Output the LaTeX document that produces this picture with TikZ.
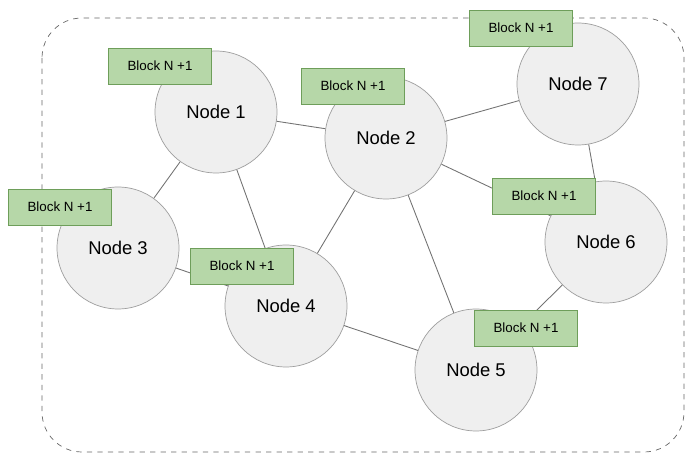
\documentclass[tikz,border=0pt]{standalone}
\usepackage{fontspec}
\setmainfont{Liberation Sans}
\usetikzlibrary{positioning}
\definecolor{nodefill}{HTML}{EFEFEF}
\definecolor{nodeline}{HTML}{9E9E9E}
\definecolor{blockfill}{HTML}{B6D7A8}
\definecolor{blockline}{HTML}{6E9E5A}
\tikzset{
  peer/.style={circle, draw=nodeline, fill=nodefill, minimum size=2.44cm, inner sep=0pt, font=\fontsize{10.5}{12}\selectfont},
  block/.style={rectangle, draw=blockline, fill=blockfill, minimum width=2.06cm, minimum height=0.72cm, inner sep=0pt, font=\fontsize{7.6}{9}\selectfont},
  link/.style={draw=black!55, line width=0.5pt}
}
\begin{document}
\begin{tikzpicture}[x=0.02cm, y=-0.02cm]
\useasboundingbox (0,0) rectangle (691,459);
\draw[dashed, draw=black!60, rounded corners=0.8cm] (42,18) rectangle (684,452);
% peers
\node[peer] (n1) at (216,112) {Node 1};
\node[peer] (n2) at (386,138) {Node 2};
\node[peer] (n3) at (118,248) {Node 3};
\node[peer] (n4) at (286,306) {Node 4};
\node[peer] (n5) at (476,370) {Node 5};
\node[peer] (n6) at (606,242) {Node 6};
\node[peer] (n7) at (578,84) {Node 7};
% connections
\foreach \a/\b in {1/2,1/3,1/4,2/7,2/4,2/5,2/6,3/4,4/5,7/6,6/5}{
\draw[link] (n\a) -- (n\b);};
% blocks
\node[block] (b1) at (160,66) {Block N +1};
\node[block] (b2) at (353,86) {Block N +1};
\node[block] (b7) at (521,28) {Block N +1};
\node[block] (b3) at (60,207) {Block N +1};
\node[block] (b4) at (242,266) {Block N +1};
\node[block] (b6) at (544,196) {Block N +1};
\node[block] (b5) at (526,328) {Block N +1};
\end{tikzpicture}
\end{document}
